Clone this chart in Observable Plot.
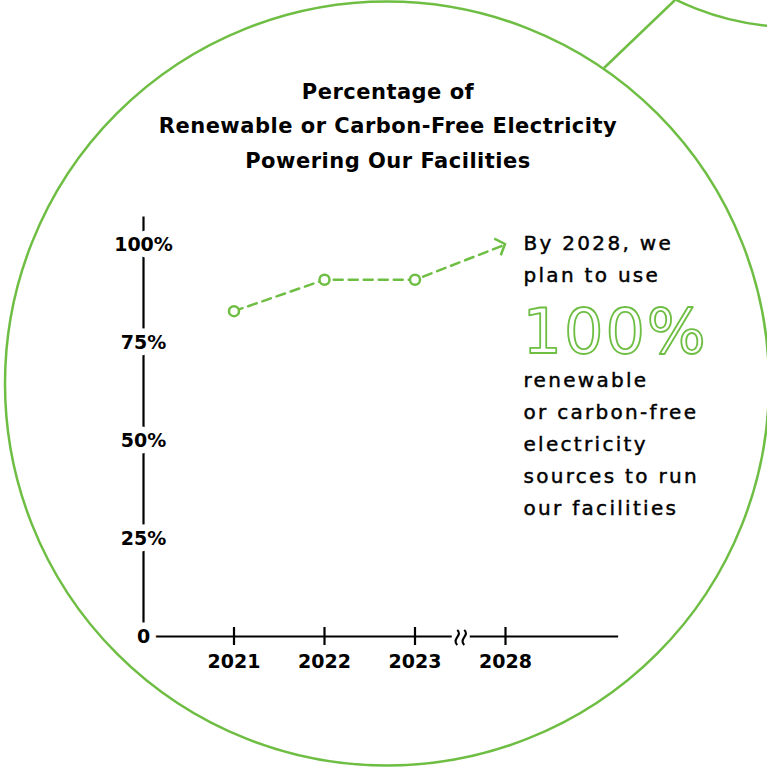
<!DOCTYPE html>
<html><head><meta charset="utf-8">
<script src="https://cdn.jsdelivr.net/npm/d3@7"></script>
<script src="https://cdn.jsdelivr.net/npm/@observablehq/plot@0.6"></script>
<style>
html,body{margin:0;padding:0;background:#fff;}
#chart{width:767px;height:767px;}
g[aria-description="title"] text{letter-spacing:0.5px}
g[aria-description="note"] text{letter-spacing:2.3px}
g[aria-description="note-big"] text{letter-spacing:2px}
g[aria-description="tick-label"] text{letter-spacing:0px}
</style></head><body><div id="chart"></div>
<script>
const GREEN = "#6fbe44";
const FONT = "DejaVu Sans";
const years = ["2021", "2022", "2023", "2028"];
const pct = [83, 91, 91, 100];          // 2028 is the target
const actualCount = 3;
const yTicks = [0, 25, 50, 75, 100];
const yTickLabels = ["0", "25%", "50%", "75%", "100%"];
const titleLines = ["Percentage of", "Renewable or Carbon-Free Electricity", "Powering Our Facilities"];
const noteTop = ["By 2028, we", "plan to use"];
const noteBig = "100%";
const noteBottom = ["renewable", "or carbon-free", "electricity", "sources to run", "our facilities"];

const series = years.map((year, i) => ({year, slot: i, pct: pct[i]}));
const actual = series.slice(0, actualCount);

function decor(index, scales) {
  const g = d3.create("svg:g").attr("fill", "none").attr("stroke", GREEN).attr("stroke-width", 2.5);
  g.append("circle").attr("cx", 387).attr("cy", 383.5).attr("r", 382);
  g.append("circle").attr("cx", 793).attr("cy", -238).attr("r", 265);
  g.append("line").attr("x1", 604).attr("y1", 68).attr("x2", 675).attr("y2", 0);
  return g.node();
}

function axisBreak(index, scales) {
  const x = (scales.x(2) + scales.x(3)) / 2 + 1, y = scales.y(0);
  const g = d3.create("svg:g");
  g.append("rect").attr("x", x - 9).attr("y", y - 4).attr("width", 18).attr("height", 8).attr("fill", "white");
  for (const ox of [x - 3.5, x + 3.5]) {
    g.append("path")
      .attr("d", `M${ox},${y - 6} C${ox + 6},${y - 1} ${ox - 6},${y + 3} ${ox},${y + 9}`)
      .attr("fill", "none").attr("stroke", "black").attr("stroke-width", 2.2);
  }
  return g.node();
}

function arrowHead(index, scales) {
  const a = series[series.length - 2], b = series[series.length - 1];
  const x1 = scales.x(a.slot), y1 = scales.y(a.pct);
  const x2 = scales.x(b.slot), y2 = scales.y(b.pct);
  const ang = Math.atan2(y2 - y1, x2 - x1) + Math.PI;
  const L = 12, w = 48 * Math.PI / 180;
  const p1 = [x2 + L * Math.cos(ang - w), y2 + L * Math.sin(ang - w)];
  const p2 = [x2 + L * Math.cos(ang + w), y2 + L * Math.sin(ang + w)];
  return d3.create("svg:path")
    .attr("d", `M${p1[0]},${p1[1]} L${x2},${y2} L${p2[0]},${p2[1]}`)
    .attr("fill", "none").attr("stroke", GREEN).attr("stroke-width", 2.5)
    .attr("stroke-linejoin", "miter").node();
}

const chart = Plot.plot({
  width: 767,
  height: 767,
  margin: 0,
  style: {fontFamily: FONT, background: "white"},
  x: {domain: [-1, 3], range: [143, 505], axis: null},
  y: {domain: [0, 100], range: [636, 244], axis: null},
  marks: [
    decor,
    Plot.ruleX([-1], {y1: 0, y2: 107, stroke: "black", strokeWidth: 2.2}),
    Plot.ruleY([0], {x1: -1, x2: 4.25, stroke: "black", strokeWidth: 2.2}),
    Plot.ruleX(series, {x: "slot", y1: -2.3, y2: 2.3, stroke: "black", strokeWidth: 2.2}),
    axisBreak,
    Plot.text(yTicks, {x: -1, y: d => d, text: (d, i) => yTickLabels[i], fontSize: 19, fontWeight: 700,
      fill: "black", stroke: "white", strokeWidth: 13, ariaDescription: "tick-label"}),
    Plot.text(series, {x: "slot", y: 0, text: "year", dy: 25, fontSize: 19, fontWeight: 700,
      fill: "black", ariaDescription: "tick-label"}),
    Plot.line(series, {x: "slot", y: "pct", stroke: GREEN, strokeWidth: 2.5, strokeDasharray: "9,6"}),
    Plot.dot(actual, {x: "slot", y: "pct", r: 5, fill: "white", stroke: GREEN, strokeWidth: 2.5}),
    arrowHead,
    Plot.text([titleLines.join("\n")], {frameAnchor: "top", dx: 4, dy: 167, lineAnchor: "bottom",
      lineHeight: 1.62, fontSize: 21, fontWeight: 700, fill: "black", ariaDescription: "title"}),
    Plot.text([noteTop.join("\n")], {frameAnchor: "top-left", dx: 523, dy: 281, lineAnchor: "bottom",
      lineHeight: 1.6, fontSize: 20, fill: "black", stroke: "black", strokeWidth: 0.45,
      textAnchor: "start", ariaDescription: "note"}),
    Plot.text([noteBig], {frameAnchor: "top-left", dx: 522, dy: 352, lineAnchor: "bottom",
      fontSize: 62, fill: "none", stroke: GREEN, strokeWidth: 1.8, textAnchor: "start", ariaDescription: "note-big"}),
    Plot.text([noteBottom.join("\n")], {frameAnchor: "top-left", dx: 523, dy: 514, lineAnchor: "bottom",
      lineHeight: 1.6, fontSize: 20, fill: "black", stroke: "black", strokeWidth: 0.45,
      textAnchor: "start", ariaDescription: "note"})
  ]
});
document.getElementById("chart").appendChild(chart);
</script>
</body></html>
